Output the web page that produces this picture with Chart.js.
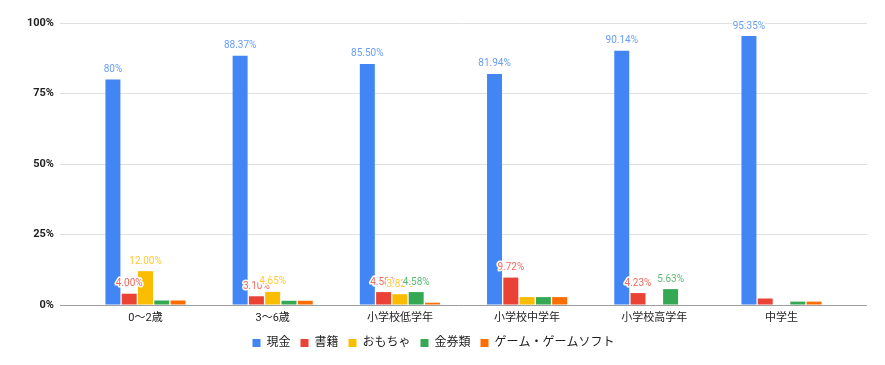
<!DOCTYPE html>
<html>
<head>
<meta charset="utf-8">
<script src="https://cdn.jsdelivr.net/npm/chart.js@4"></script>
<style>
  html, body { margin: 0; padding: 0; background: #fff; }
  #wrap { width: 885px; height: 365px; }
</style>
</head>
<body>
<div id="wrap"><canvas id="chart"></canvas></div>
<script>
const categories = ['0〜2歳', '3〜6歳', '小学校低学年', '小学校中学年', '小学校高学年', '中学生'];
const seriesNames = ['現金', '書籍', 'おもちゃ', '金券類', 'ゲーム・ゲームソフト'];
const colors = ['#4285f4', '#ea4335', '#fbbc04', '#34a853', '#ff6d01'];

const cash  = [80, 88.37, 85.5, 81.94, 90.14, 95.35];
const books = [4.0, 3.1, 4.58, 9.72, 4.23, 2.3];
const toys  = [12.0, 4.65, 3.82, 2.8, 0, 0];
const vouchers = [1.6, 1.5, 4.58, 2.8, 5.63, 1.2];
const games = [1.6, 1.5, 0.8, 2.8, 0, 1.2];

// annotations shown in the picture (null = no label)
const cashLabels  = ['80%', '88.37%', '85.50%', '81.94%', '90.14%', '95.35%'];
const booksLabels = ['4.00%', '3.10%', '4.58%', '9.72%', '4.23%', null];
const toysLabels  = ['12.00%', '4.65%', '3.82%', null, null, null];
const vouchersLabels = [null, null, '4.58%', null, '5.63%', null];
const gamesLabels = [null, null, null, null, null, null];

const yTicks = [0, 25, 50, 75, 100];

const allValues = [cash, books, toys, vouchers, games];
const allLabels = [cashLabels, booksLabels, toysLabels, vouchersLabels, gamesLabels];

const FONT = 'Roboto, "Noto Sans CJK JP", sans-serif';

// labels above bars, with a white halo like the original
const barLabels = {
  id: 'barLabels',
  afterDatasetsDraw(chart) {
    const c = chart.ctx;
    c.save();
    c.font = '10px ' + FONT;
    c.textAlign = 'center';
    c.textBaseline = 'middle';
    c.lineJoin = 'round';
    chart.data.datasets.forEach((ds, i) => {
      chart.getDatasetMeta(i).data.forEach((bar, j) => {
        const txt = ds.annot[j];
        if (!txt) return;
        const y = bar.y - 10;
        c.globalAlpha = 1;
        c.strokeStyle = '#fff';
        c.lineWidth = 3;
        c.strokeText(txt, bar.x, y);
        c.globalAlpha = 0.8;
        c.fillStyle = ds.backgroundColor;
        c.fillText(txt, bar.x, y);
      });
    });
    c.restore();
  }
};

const datasets = seriesNames.map((name, i) => ({
  label: name,
  data: allValues[i],
  annot: allLabels[i],
  backgroundColor: colors[i],
  borderWidth: 0,
  categoryPercentage: 0.64,
  barPercentage: 0.92
}));

new Chart(document.getElementById('chart'), {
  type: 'bar',
  data: { labels: categories, datasets: datasets },
  plugins: [barLabels],
  options: {
    responsive: true,
    maintainAspectRatio: false,
    animation: false,
    layout: { padding: { top: 23, right: 18, left: 0, bottom: 6 } },
    plugins: {
      tooltip: { enabled: false },
      legend: {
        position: 'bottom',
        labels: {
          boxWidth: 8,
          boxHeight: 8,
          padding: 10,
          color: '#222',
          font: { family: FONT, size: 12 }
        }
      }
    },
    scales: {
      x: {
        grid: { display: false, drawTicks: false },
        border: { display: false },
        ticks: { color: '#222', font: { family: FONT, size: 11 }, maxRotation: 0, padding: 7 },
        afterFit(scale) { scale.height = 22; },
        afterBuildTicks(scale) {
          // leave some room between the axis ends and the outer groups
          const e = 0.172;
          scale._startValue -= e;
          scale._valueRange += 2 * e;
        }
      },
      y: {
        min: 0,
        max: 100,
        afterBuildTicks(scale) { scale.ticks = yTicks.map(v => ({ value: v })); },
        afterFit(scale) { scale.width = 60; },
        grid: {
          color: ctx => ctx.tick && ctx.tick.value === 0 ? '#9e9e9e' : '#e0e0e0',
          lineWidth: 1,
          drawTicks: false
        },
        border: { display: false },
        ticks: {
          color: '#222',
          padding: 6,
          font: { family: FONT, size: 11, weight: 'bold' },
          callback: v => v + '%'
        }
      }
    }
  }
});
</script>
</body>
</html>
